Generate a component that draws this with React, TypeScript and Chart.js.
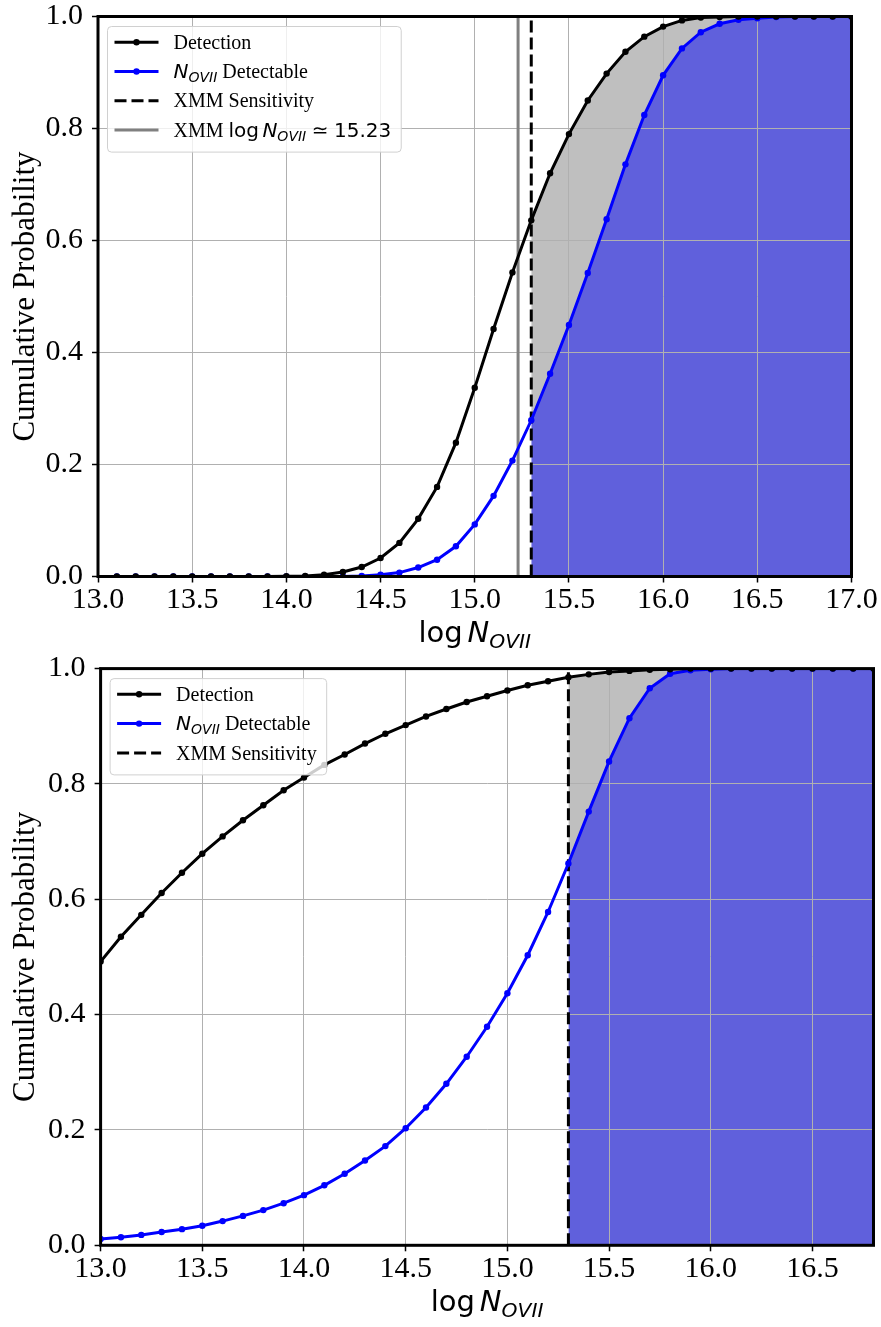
import React, { useEffect, useRef } from 'react';
import { Chart, registerables } from 'chart.js';

Chart.register(...registerables);

// ---------------- data ----------------
const topLogN = [
  13.1, 13.2, 13.3, 13.4, 13.5, 13.6, 13.7, 13.8, 13.9, 14.0,
  14.1, 14.2, 14.3, 14.4, 14.5, 14.6, 14.7, 14.8, 14.9, 15.0,
  15.1, 15.2, 15.3, 15.4, 15.5, 15.6, 15.7, 15.8, 15.9, 16.0,
  16.1, 16.2, 16.3, 16.4, 16.5, 16.6, 16.7, 16.8, 16.9, 17.0,
];
const topDetection = [
  0, 0, 0, 0, 0, 0, 0, 0, 0, 0.0005,
  0.001, 0.003, 0.008, 0.017, 0.033, 0.06, 0.103, 0.16, 0.239, 0.337,
  0.442, 0.543, 0.636, 0.72, 0.79, 0.85, 0.898, 0.937, 0.964, 0.982,
  0.993, 0.998, 0.999, 1, 1, 1, 1, 1, 1, 1,
];
const topDetectable = [
  0, 0, 0, 0, 0, 0, 0, 0, 0, 0,
  0, 0, 0, 0.001, 0.003, 0.007, 0.016, 0.03, 0.054, 0.093,
  0.144, 0.207, 0.279, 0.362, 0.449, 0.542, 0.638, 0.736, 0.824, 0.895,
  0.943, 0.972, 0.987, 0.994, 0.997, 0.999, 1, 1, 1, 1,
];

const bottomLogN = [
  13.0, 13.1, 13.2, 13.3, 13.4, 13.5, 13.6, 13.7, 13.8, 13.9,
  14.0, 14.1, 14.2, 14.3, 14.4, 14.5, 14.6, 14.7, 14.8, 14.9,
  15.0, 15.1, 15.2, 15.3, 15.4, 15.5, 15.6, 15.7, 15.8, 15.9,
  16.0, 16.1, 16.2, 16.3, 16.4, 16.5, 16.6, 16.7, 16.8,
];
const bottomDetection = [
  0.492, 0.535, 0.573, 0.611, 0.646, 0.679, 0.709, 0.737, 0.763, 0.789,
  0.811, 0.833, 0.851, 0.87, 0.887, 0.902, 0.917, 0.93, 0.942, 0.952,
  0.962, 0.971, 0.978, 0.985, 0.99, 0.994, 0.996, 0.998, 0.999, 1,
  1, 1, 1, 1, 1, 1, 1, 1, 1,
];
const bottomDetectable = [
  0.011, 0.014, 0.018, 0.023, 0.028, 0.034, 0.042, 0.051, 0.061, 0.073,
  0.087, 0.104, 0.124, 0.147, 0.172, 0.203, 0.239, 0.28, 0.327, 0.379,
  0.437, 0.503, 0.578, 0.662, 0.752, 0.839, 0.914, 0.966, 0.991, 0.997,
  0.999, 1, 1, 1, 1, 1, 1, 1, 1,
];

const xmmSensitivity = 15.3;
const xmmLogN = 15.23;
const topXRange = [13.0, 17.0];
const bottomXRange = [13.0, 16.8];
const yRange = [0, 1];
const xTickStep = 0.5;
const yTickStep = 0.2;

const labelDetection = 'Detection';
const labelDetectable = 'Detectable';
const labelSensitivity = 'XMM Sensitivity';
const labelXmmValue = '15.23';
const yTitle = 'Cumulative Probability';

// ---------------- styles ----------------
const SERIF = '"Liberation Serif", "Times New Roman", serif';
const SANS = '"DejaVu Sans", sans-serif';
const BLUE = '#0000ff';
const BLUE_FILL = 'rgb(96,96,220)';
const GREY_FILL = '#bfbfbf';
const GRID = '#b0b0b0';
const DASH = [12, 5];
const TICK_FONT = 30;

type Seg = { t?: string; f?: string; gap?: number };

function fontFor(f: string, size: number) {
  switch (f) {
    case 'sans': return `${size}px ${SANS}`;
    case 'it': return `italic ${size}px ${SANS}`;
    case 'sub': return `italic ${size * 0.7}px ${SANS}`;
    default: return `${size}px ${SERIF}`;
  }
}
function measureSegs(ctx: CanvasRenderingContext2D, segs: Seg[], size: number) {
  let w = 0;
  for (const s of segs) {
    if (s.gap) { w += s.gap; continue; }
    ctx.font = fontFor(s.f || 'serif', size);
    w += ctx.measureText(s.t || '').width;
  }
  return w;
}
function drawSegs(ctx: CanvasRenderingContext2D, x: number, y: number, segs: Seg[], size: number) {
  let cx = x;
  ctx.textAlign = 'left';
  ctx.textBaseline = 'alphabetic';
  for (const s of segs) {
    if (s.gap) { cx += s.gap; continue; }
    ctx.font = fontFor(s.f || 'serif', size);
    const dy = s.f === 'sub' ? size * 0.2 : 0;
    ctx.fillText(s.t || '', cx, y + dy);
    cx += ctx.measureText(s.t || '').width;
  }
  return cx - x;
}

const nOVII = (): Seg[] => [{ t: 'N', f: 'it' }, { t: 'OVII', f: 'sub' }];

type LegendRow = { kind: 'solid' | 'dash'; color: string; marker: boolean; segs: Seg[] };

const rowDetection: LegendRow = { kind: 'solid', color: '#000', marker: true, segs: [{ t: labelDetection, f: 'serif' }] };
const rowDetectable: LegendRow = {
  kind: 'solid', color: BLUE, marker: true,
  segs: [...nOVII(), { t: ' ' + labelDetectable, f: 'serif' }],
};
const rowSensitivity: LegendRow = { kind: 'dash', color: '#000', marker: false, segs: [{ t: labelSensitivity, f: 'serif' }] };
const rowXmmValue: LegendRow = {
  kind: 'solid', color: '#808080', marker: false,
  segs: [
    { t: 'XMM ', f: 'serif' }, { t: 'log', f: 'sans' }, { gap: 3.4 }, ...nOVII(),
    { gap: 5.5 }, { t: '\u2243', f: 'sans' }, { gap: 5.5 }, { t: labelXmmValue, f: 'sans' },
  ],
};

type Spec = {
  xs: number[]; det: number[]; dab: number[]; xr: number[];
  showXmm: boolean; canvasH: number;
  area: { left: number; top: number; right: number; bottom: number };
  legend: LegendRow[];
};

const topSpec: Spec = {
  xs: topLogN, det: topDetection, dab: topDetectable, xr: topXRange, showXmm: true,
  canvasH: 655, area: { left: 98, top: 16.5, right: 851.5, bottom: 576.5 },
  legend: [rowDetection, rowDetectable, rowSensitivity, rowXmmValue],
};
const bottomSpec: Spec = {
  xs: bottomLogN, det: bottomDetection, dab: bottomDetectable, xr: bottomXRange, showXmm: false,
  canvasH: 672, area: { left: 100.6, top: 13.6, right: 873.5, bottom: 590.3 },
  legend: [rowDetection, rowDetectable, rowSensitivity],
};

function buildConfig(spec: Spec): any {
  const detPts = spec.xs.map((x, i) => ({ x, y: spec.det[i] }));
  const dabPts = spec.xs.map((x, i) => ({ x, y: spec.dab[i] }));
  const detFillPts = detPts.filter((p) => p.x >= xmmSensitivity - 1e-9);
  const dabFillPts = dabPts.filter((p) => p.x >= xmmSensitivity - 1e-9);

  const datasets: any[] = [
    {
      data: detPts, borderColor: '#000', backgroundColor: '#000', borderWidth: 3,
      pointRadius: 3.2, pointBorderWidth: 0, pointBackgroundColor: '#000', fill: false,
    },
    {
      data: dabPts, borderColor: BLUE, backgroundColor: BLUE, borderWidth: 3,
      pointRadius: 3.2, pointBorderWidth: 0, pointBackgroundColor: BLUE, fill: false,
    },
    {
      data: [{ x: xmmSensitivity, y: yRange[0] }, { x: xmmSensitivity, y: yRange[1] }],
      borderColor: '#000', borderWidth: 3, borderDash: DASH, pointRadius: 0, fill: false,
    },
  ];
  if (spec.showXmm) {
    datasets.push({
      data: [{ x: xmmLogN, y: yRange[0] }, { x: xmmLogN, y: yRange[1] }],
      borderColor: '#808080', borderWidth: 3, pointRadius: 0, fill: false,
    });
  }
  const blueFillIdx = datasets.length;
  datasets.push({
    data: dabFillPts, borderWidth: 0, borderColor: 'rgba(0,0,0,0)', pointRadius: 0,
    backgroundColor: BLUE_FILL, fill: 'origin',
  });
  datasets.push({
    data: detFillPts, borderWidth: 0, borderColor: 'rgba(0,0,0,0)', pointRadius: 0,
    backgroundColor: GREY_FILL, fill: blueFillIdx,
  });

  const A = spec.area;
  const W = 881;

  const decor = {
    id: 'decor',
    afterDatasetsDraw(chart: any) {
      const ctx = chart.ctx as CanvasRenderingContext2D;
      const ca = chart.chartArea;
      ctx.save();
      ctx.strokeStyle = '#000';
      ctx.lineWidth = 3;
      ctx.strokeRect(ca.left, ca.top, ca.right - ca.left, ca.bottom - ca.top);
      ctx.restore();
    },
    afterDraw(chart: any) {
      const ctx = chart.ctx as CanvasRenderingContext2D;
      const ca = chart.chartArea;
      ctx.save();
      ctx.fillStyle = '#000';
      // y title
      ctx.save();
      ctx.translate(34, (ca.top + ca.bottom) / 2);
      ctx.rotate(-Math.PI / 2);
      ctx.font = `31px ${SERIF}`;
      ctx.textAlign = 'center';
      ctx.textBaseline = 'alphabetic';
      ctx.fillText(yTitle, 0, 0);
      ctx.restore();
      // x title
      const xs = 29;
      const xsegs: Seg[] = [{ t: 'log', f: 'sans' }, { gap: 0.17 * xs }, ...nOVII()];
      const xw = measureSegs(ctx, xsegs, xs);
      ctx.fillStyle = '#000';
      drawSegs(ctx, (ca.left + ca.right) / 2 - xw / 2, ca.bottom + 65.5, xsegs, xs);

      // legend
      const fs = 20;
      const rows = spec.legend;
      let maxW = 0;
      for (const r of rows) maxW = Math.max(maxW, measureSegs(ctx, r.segs, fs));
      const bx = ca.left + 9.5;
      const by = ca.top + 10;
      const bw = 66 + maxW + 10;
      const bh = 15.7 + (rows.length - 1) * 29.3 + 22;
      ctx.beginPath();
      (ctx as any).roundRect(bx, by, bw, bh, 4);
      ctx.fillStyle = 'rgba(255,255,255,0.8)';
      ctx.fill();
      ctx.strokeStyle = '#d0d0d0';
      ctx.lineWidth = 1;
      ctx.stroke();
      rows.forEach((r, i) => {
        const cy = by + 15.7 + i * 29.3;
        ctx.save();
        ctx.strokeStyle = r.color;
        ctx.lineWidth = 3;
        ctx.setLineDash(r.kind === 'dash' ? DASH : []);
        ctx.beginPath();
        ctx.moveTo(bx + 7, cy);
        ctx.lineTo(bx + 51, cy);
        ctx.stroke();
        ctx.restore();
        if (r.marker) {
          ctx.beginPath();
          ctx.arc(bx + 29, cy, 3.2, 0, Math.PI * 2);
          ctx.fillStyle = r.color;
          ctx.fill();
        }
        ctx.fillStyle = '#000';
        drawSegs(ctx, bx + 66, cy + 6.6, r.segs, fs);
      });
      ctx.restore();
    },
  };

  return {
    type: 'line',
    data: { datasets },
    plugins: [decor],
    options: {
      animation: false,
      responsive: false,
      devicePixelRatio: 1,
      layout: { padding: { left: 0, top: A.top, right: W - A.right, bottom: 0 } },
      plugins: {
        legend: { display: false },
        tooltip: { enabled: false },
        title: { display: false },
        filler: { drawTime: 'beforeDraw', propagate: false },
      },
      elements: { line: { tension: 0 } },
      scales: {
        x: {
          type: 'linear',
          min: spec.xr[0],
          max: spec.xr[1],
          afterFit: (s: any) => {
            s.height = spec.canvasH - A.bottom;
            s.paddingLeft = 0; s.paddingRight = 0; s.paddingTop = 0; s.paddingBottom = 0;
          },
          border: { display: false },
          grid: { color: GRID, lineWidth: 1, tickColor: '#000', tickWidth: 1.5, tickLength: 6, drawTicks: true },
          ticks: {
            stepSize: xTickStep, includeBounds: false, autoSkip: false, maxRotation: 0, minRotation: 0,
            padding: 0, color: '#000', font: { family: SERIF, size: TICK_FONT },
            callback: (v: any) => Number(v).toFixed(1),
          },
        },
        y: {
          type: 'linear',
          min: yRange[0],
          max: yRange[1],
          afterFit: (s: any) => {
            s.width = A.left;
            s.paddingLeft = 0; s.paddingRight = 0; s.paddingTop = 0; s.paddingBottom = 0;
          },
          border: { display: false },
          grid: { color: GRID, lineWidth: 1, tickColor: '#000', tickWidth: 1.5, tickLength: 6, drawTicks: true },
          ticks: {
            stepSize: yTickStep, includeBounds: false, autoSkip: false,
            padding: 9, color: '#000', font: { family: SERIF, size: TICK_FONT },
            callback: (v: any) => Number(v).toFixed(1),
          },
        },
      },
    },
  };
}

function Panel({ spec, top }: { spec: Spec; top: number }) {
  const ref = useRef<HTMLCanvasElement>(null);
  useEffect(() => {
    const chart = new Chart(ref.current as HTMLCanvasElement, buildConfig(spec));
    return () => chart.destroy();
  }, [spec]);
  return (
    <canvas
      ref={ref}
      width={881}
      height={spec.canvasH}
      style={{ position: 'absolute', left: 0, top, width: 881, height: spec.canvasH }}
    />
  );
}

export default function App() {
  return (
    <div style={{ position: 'absolute', left: 0, top: 0, width: 881, height: 1327, background: '#fff' }}>
      <Panel spec={topSpec} top={0} />
      <Panel spec={bottomSpec} top={655} />
    </div>
  );
}
